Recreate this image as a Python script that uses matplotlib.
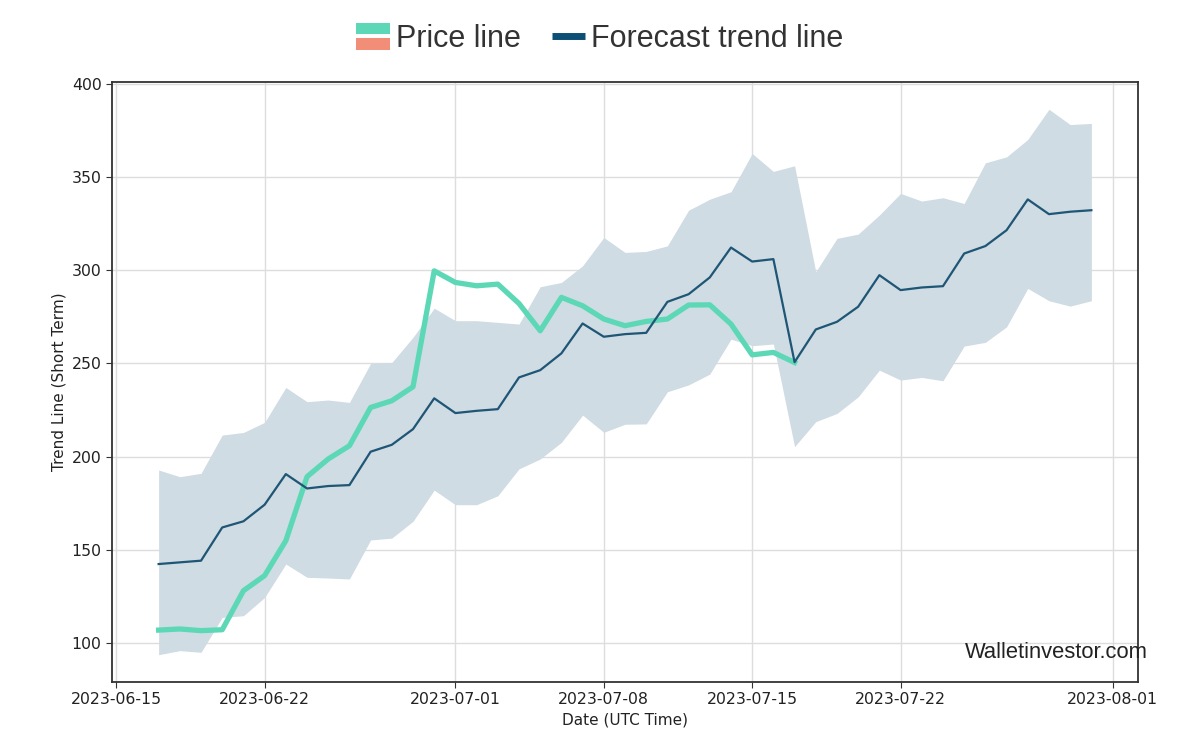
import matplotlib
matplotlib.use("Agg")
import matplotlib.pyplot as plt
import matplotlib.dates as mdates
from matplotlib.legend_handler import HandlerBase
from matplotlib.patches import Rectangle
from matplotlib.lines import Line2D
import pandas as pd

# forecast data, one point per day from 2023-06-17
dates = pd.date_range("2023-06-17", "2023-07-31", freq="D")

forecast = [142.5, 143.4, 144.3, 162.1, 165.4, 174.3, 190.7, 183.0, 184.3, 184.8,
            202.7, 206.4, 214.8, 231.3, 223.4, 224.6, 225.5, 242.5, 246.4, 255.4,
            271.4, 264.3, 265.7, 266.4, 283.0, 287.1, 296.1, 312.1, 304.6, 305.9,
            250.7, 268.2, 272.3, 280.4, 297.3, 289.3, 290.7, 291.4, 308.9, 312.9,
            321.4, 337.9, 330.0, 331.3, 332.1]

upper = [192.9, 189.3, 191.1, 211.6, 213.0, 218.4, 237.1, 229.5, 230.4, 229.1,
         250.0, 250.5, 264.0, 279.6, 272.9, 272.9, 272.0, 271.1, 291.1, 293.4,
         302.3, 317.5, 309.5, 310.0, 313.0, 332.1, 338.0, 342.0, 362.5, 352.9,
         355.9, 299.1, 317.0, 319.3, 329.5, 341.1, 337.0, 338.8, 335.7, 357.5,
         360.7, 370.0, 386.2, 378.0, 378.6]

lower = [93.9, 96.1, 95.2, 113.9, 114.8, 124.6, 142.5, 135.4, 135.0, 134.5,
         155.4, 156.4, 165.4, 182.1, 174.3, 174.3, 179.1, 193.5, 198.8, 207.7,
         222.3, 213.1, 217.4, 217.6, 234.8, 238.5, 244.3, 263.0, 259.5, 260.4,
         205.4, 218.8, 223.2, 232.1, 246.4, 241.1, 242.5, 240.7, 259.3, 261.3,
         269.6, 290.2, 283.6, 280.7, 283.6]

# price line, 2023-06-17 .. 2023-07-17
price_dates = dates[:31]
price = [107.1, 107.7, 106.8, 107.3, 128.2, 136.3, 155.0, 189.3, 198.8, 205.9,
         226.4, 230.0, 237.5, 299.6, 293.4, 291.6, 292.5, 282.1, 267.5, 285.4,
         280.9, 273.8, 270.2, 272.5, 273.8, 281.3, 281.4, 271.1, 254.6, 255.9,
         250.5]

tick_dates = ["2023-06-15", "2023-06-22", "2023-07-01", "2023-07-08",
              "2023-07-15", "2023-07-22", "2023-08-01"]

green = "#5dd8b6"
salmon = "#f28e78"
dark = "#1f5575"
band = "#cfdce3"


class TwoColorHandler(HandlerBase):
    # legend key: green bar on top, salmon bar underneath
    def create_artists(self, legend, orig_handle, xdescent, ydescent,
                       width, height, fontsize, trans):
        h = 8
        mid = -ydescent + height / 2
        top = Rectangle((-xdescent, mid + 1.5), width, h,
                        facecolor=green, edgecolor="none", transform=trans)
        bottom = Rectangle((-xdescent, mid - 1.5 - h), width, h,
                           facecolor=salmon, edgecolor="none", transform=trans)
        return [top, bottom]


fig = plt.figure(figsize=(12, 7.45), dpi=100)
ax = fig.add_axes([112 / 1200, 1 - 682 / 745, 1026 / 1200, 600 / 745])

ax.fill_between(dates, lower, upper, color=band, linewidth=0, zorder=1)
ax.plot(dates, forecast, color=dark, linewidth=1.6, zorder=3)
ax.plot(price_dates, price, color=green, linewidth=3.8, zorder=2)

ax.set_yticks([100, 150, 200, 250, 300, 350, 400])
ax.set_xticks(pd.to_datetime(tick_dates))
ax.xaxis.set_major_formatter(mdates.DateFormatter("%Y-%m-%d"))
ax.tick_params(labelsize=11.3, color="#333333", labelcolor="#222222", length=4)
ax.grid(True, color="#dddddd", linewidth=1)
ax.set_axisbelow(True)
for s in ax.spines.values():
    s.set_color("#333333")
    s.set_linewidth(1.3)

ax.set_xlabel("Date (UTC Time)", fontsize=11, color="#222222")
ax.set_ylabel("Trend Line (Short Term)", fontsize=11, color="#222222")

price_key = Rectangle((0, 0), 1, 1)
forecast_key = Line2D([0], [0], color="#0b4f75", linewidth=5, solid_capstyle="butt")
leg = fig.legend([price_key, forecast_key], ["Price line", "Forecast trend line"],
                 handler_map={price_key: TwoColorHandler()},
                 loc="center", bbox_to_anchor=(0.5, 1 - 39 / 745), ncol=2, frameon=False,
                 prop={"family": ["Liberation Sans", "DejaVu Sans"], "size": 22},
                 handlelength=1.1, handletextpad=0.2, columnspacing=1.0)
for t in leg.get_texts():
    t.set_color("#333333")

fig.text(965 / 1200, 1 - 653 / 745, "Walletinvestor.com", fontsize=15.8,
         family=["Liberation Sans", "DejaVu Sans"], color="#222222",
         ha="left", va="center")

fig.savefig("out.png", dpi=100)
